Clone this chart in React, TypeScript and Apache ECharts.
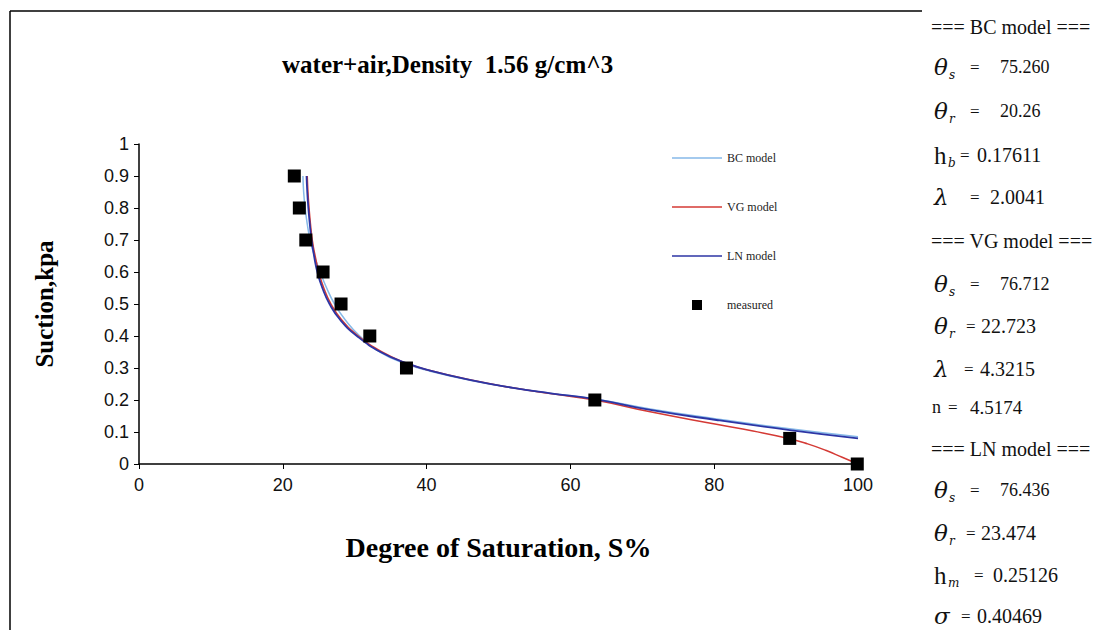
import React, { useEffect, useRef } from "react";
import * as echarts from "echarts";

// ---- data ----
const titleText = "water+air,Density  1.56 g/cm^3";
const xName = "Degree of Saturation, S%";
const yName = "Suction,kpa";

const measuredX = [21.6, 22.3, 23.2, 25.6, 28.1, 32.1, 37.2, 63.4, 90.5, 99.9];
const measuredY = [0.9, 0.8, 0.7, 0.6, 0.5, 0.4, 0.3, 0.2, 0.08, 0];

const bcX = [22.8, 22.9, 23.1, 23.4, 23.8, 24.4, 25.2, 26.1, 27.2, 28.7, 30.7, 33.5, 37.2, 40.5, 46, 52, 57.2, 63.4, 71.1, 80.3, 90.5, 100];
const bcY = [0.9, 0.85, 0.8, 0.75, 0.7, 0.65, 0.6, 0.55, 0.5, 0.45, 0.4, 0.35, 0.312, 0.29, 0.262, 0.238, 0.221, 0.203, 0.172, 0.141, 0.11, 0.085];

const vgX = [23.4, 23.5, 23.65, 23.85, 24.1, 24.5, 25.0, 25.7, 26.7, 28.2, 30.5, 33.8, 37.2, 40.5, 46, 52, 57.2, 63.4, 71.1, 80.3, 85.4, 90.5, 93.0, 95.5, 97.8, 100];
const vgY = [0.9, 0.85, 0.8, 0.75, 0.7, 0.65, 0.6, 0.55, 0.5, 0.45, 0.4, 0.35, 0.315, 0.292, 0.263, 0.238, 0.22, 0.2, 0.163, 0.124, 0.103, 0.079, 0.063, 0.043, 0.021, 0];

const lnX = [23.3, 23.4, 23.55, 23.75, 24.0, 24.35, 24.8, 25.5, 26.5, 28.0, 30.3, 33.6, 37.2, 40.5, 46, 52, 57.2, 63.4, 71.1, 80.3, 90.5, 100];
const lnY = [0.9, 0.85, 0.8, 0.75, 0.7, 0.65, 0.6, 0.55, 0.5, 0.45, 0.4, 0.35, 0.315, 0.292, 0.263, 0.238, 0.221, 0.203, 0.169, 0.1375, 0.106, 0.08];

const seriesNames = ["BC model", "VG model", "LN model", "measured"];

// right-hand parameter panel (text only)
const panelKinds = ["head", "sym", "sym", "h", "sym", "head", "sym", "sym", "sym", "n", "head", "sym", "sym", "h", "sym"];
const panelSymbols = ["=== BC model ===", "θ", "θ", "h", "λ", "=== VG model ===", "θ", "θ", "λ", "n", "=== LN model ===", "θ", "θ", "h", "σ"];
const panelSubs = ["", "s", "r", "b", "", "", "s", "r", "", "", "", "s", "r", "m", ""];
const panelValues = ["", "75.260", "20.26", "0.17611", "2.0041", "", "76.712", "22.723", "4.3215", "4.5174", "", "76.436", "23.474", "0.25126", "0.40469"];

const zip = (xs: number[], ys: number[]) => xs.map((x, i) => [x, ys[i]]);

export default function App() {
  const ref = useRef<HTMLDivElement>(null);
  useEffect(() => {
    if (!ref.current) return;
    const chart = echarts.init(ref.current, undefined, { renderer: "svg" });

    const rowY = [27, 67, 111, 155, 197, 241, 284, 326, 369, 407, 449, 490, 533, 575, 616];
    const eqX = [0, 970, 970, 960, 970, 0, 970, 966, 964, 948, 0, 970, 966, 974, 961];
    const numX = [0, 1000, 1000, 977, 990, 0, 1000, 981, 980, 970, 0, 1000, 981, 993, 977];
    const numSize = [0, 18, 18, 20, 20, 0, 18, 20, 20, 19, 0, 18, 20, 20, 20];
    const serif = "Liberation Serif";
    const ink = "#111";
    const panel: any[] = [];
    panelKinds.forEach((k, i) => {
      const y = rowY[i];
      if (k === "head") {
        panel.push({ type: "text", x: 931, y, style: { text: panelSymbols[i], font: `20px '${serif}'`, fill: ink, textVerticalAlign: "middle" } });
        return;
      }
      if (k === "n") {
        panel.push({ type: "text", x: 932, y, style: { text: "n", font: `18px '${serif}'`, fill: ink, textVerticalAlign: "middle" } });
      } else if (k === "h") {
        panel.push({ type: "text", x: 934, y, style: { text: panelSymbols[i], font: `25px '${serif}'`, fill: ink, textVerticalAlign: "middle" } });
      } else {
        panel.push({ type: "text", x: 934, y, style: { text: panelSymbols[i], font: `italic 23px 'DejaVu Serif'`, fill: ink, textVerticalAlign: "middle" } });
      }
      if (panelSubs[i]) {
        panel.push({ type: "text", x: k === "h" ? 948 : 949, y: y + 8, style: { text: panelSubs[i], font: `italic 12px 'DejaVu Serif'`, fill: ink, textVerticalAlign: "middle" } });
      }
      panel.push({ type: "text", x: eqX[i], y, style: { text: "=", font: `17px '${serif}'`, fill: ink, textVerticalAlign: "middle" } });
      panel.push({ type: "text", x: numX[i], y, style: { text: panelValues[i], font: `${numSize[i]}px '${serif}'`, fill: ink, textVerticalAlign: "middle" } });
    });

    const lineIcon = "path://M0,0 L50,0 L50,1.6 L0,1.6 Z";
    const squareIcon = "path://M0,0 L10,0 L10,10 L0,10 Z";
    chart.setOption({
      animation: false,
      backgroundColor: "#fff",
      title: {
        text: titleText,
        left: 277,
        top: 47,
        textStyle: { fontFamily: serif, fontWeight: "bold", fontSize: 25, color: "#000" },
      },
      legend: {
        orient: "vertical",
        left: 667,
        top: 147,
        itemWidth: 50,
        itemHeight: 10,
        itemGap: 37,
        symbolKeepAspect: true,
        data: [
          { name: seriesNames[0], icon: lineIcon },
          { name: seriesNames[1], icon: lineIcon },
          { name: seriesNames[2], icon: lineIcon },
          { name: seriesNames[3], icon: squareIcon },
        ],
        textStyle: { fontFamily: serif, fontSize: 12, color: "#222" },
      },
      grid: { left: 139, right: 247, top: 144, bottom: 166 },
      xAxis: {
        type: "value",
        min: 0,
        max: 100,
        interval: 20,
        name: xName,
        nameLocation: "middle",
        nameGap: 69,
        nameTextStyle: { fontFamily: serif, fontWeight: "bold", fontSize: 28, color: "#000" },
        axisLine: { show: true, onZero: false, lineStyle: { color: "#000", width: 1.5 } },
        axisTick: { show: true, length: 5, lineStyle: { color: "#000" } },
        axisLabel: { margin: 12, fontFamily: "Liberation Sans", fontSize: 18, color: "#111" },
        splitLine: { show: false },
      },
      yAxis: {
        type: "value",
        min: 0,
        max: 1,
        interval: 0.1,
        name: yName,
        nameLocation: "middle",
        nameGap: 82,
        nameTextStyle: { fontFamily: serif, fontWeight: "bold", fontSize: 25, color: "#000" },
        axisLine: { show: true, lineStyle: { color: "#000", width: 1.5 } },
        axisTick: { show: true, length: 5, lineStyle: { color: "#000" } },
        axisLabel: { margin: 10, fontFamily: "Liberation Sans", fontSize: 18, color: "#111" },
        splitLine: { show: false },
      },
      series: [
        {
          name: "BC model", type: "line", data: zip(bcX, bcY), symbol: "none", smooth: 0.5,
          lineStyle: { width: 1.5, color: "#86b9e8" }, itemStyle: { color: "#86b9e8" },
        },
        {
          name: "VG model", type: "line", data: zip(vgX, vgY), symbol: "none", smooth: 0.5,
          lineStyle: { width: 1.5, color: "#d43a35" }, itemStyle: { color: "#d43a35" },
        },
        {
          name: "LN model", type: "line", data: zip(lnX, lnY), symbol: "none", smooth: 0.5,
          lineStyle: { width: 1.8, color: "#2c35a5" }, itemStyle: { color: "#2c35a5" },
        },
        {
          name: "measured", type: "scatter", data: zip(measuredX, measuredY), symbol: "rect", symbolSize: 13,
          itemStyle: { color: "#000", opacity: 1 }, z: 5,
        },
      ],
      graphic: [
        { type: "line", shape: { x1: 10, y1: 11, x2: 922, y2: 11 }, style: { stroke: "#000", lineWidth: 1.5 } },
        { type: "line", shape: { x1: 10, y1: 11, x2: 10, y2: 630 }, style: { stroke: "#000", lineWidth: 1.5 } },
        ...panel,
      ],
    });
    return () => chart.dispose();
  }, []);
  return <div ref={ref} style={{ position: "absolute", left: 0, top: 0, width: 1105, height: 630 }} />;
}
